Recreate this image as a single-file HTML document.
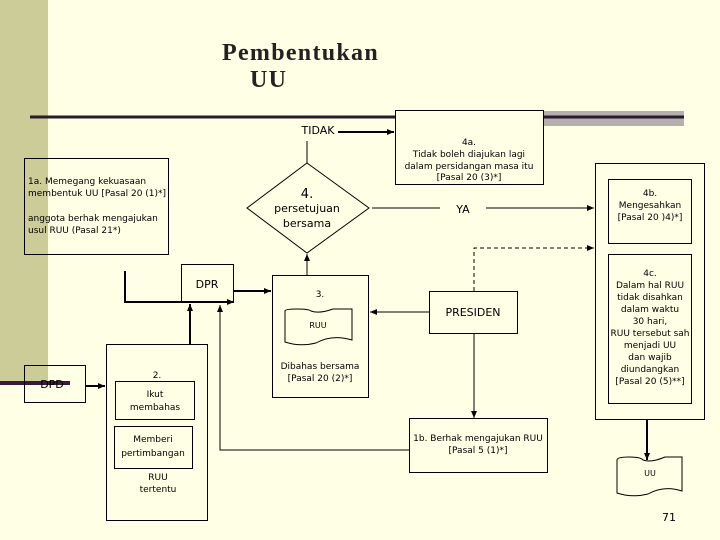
<!DOCTYPE html>
<html><head><style>
body{margin:0;width:720px;height:540px;background:#FFFFE6;overflow:hidden;position:relative;font-family:"DejaVu Sans","Liberation Sans",sans-serif}
svg{position:absolute;left:0;top:0}
</style></head><body>
<svg width="720" height="540" viewBox="0 0 720 540" font-family="DejaVu Sans, Liberation Sans, sans-serif" font-size="9">
<defs><marker id="a" markerWidth="8" markerHeight="8" refX="7" refY="4" orient="auto" markerUnits="userSpaceOnUse"><path d="M0,1 L7,4 L0,7z" fill="#000"/></marker></defs>
<rect x="0" y="0" width="48" height="383" fill="#CCCC99"/>
<rect x="540" y="111" width="144" height="15" fill="#B4B0B0"/>
<line x1="30" y1="117" x2="684" y2="117" stroke="#2A1A2A" stroke-width="3"/>
<line x1="0" y1="383" x2="70" y2="383" stroke="#3A1A3A" stroke-width="4"/>
<text x="222" y="60" font-family="Liberation Serif, serif" font-weight="bold" font-size="24" letter-spacing="1.3" fill="#222">Pembentukan</text>
<text x="250" y="87" font-family="Liberation Serif, serif" font-weight="bold" font-size="24" letter-spacing="1.3" fill="#222">UU</text>
<g fill="none" stroke="#000" stroke-width="1">
<rect x="24.5" y="158.5" width="144" height="96"/>
<rect x="395.5" y="110.5" width="148" height="74" fill="#FFFFE6"/>
<path d="M307,163 L369,208 L307,253 L247,208z"/>
<line x1="307" y1="141" x2="307" y2="163"/>
<rect x="595.5" y="163.5" width="109" height="256"/>
<rect x="608.5" y="179.5" width="83" height="64"/>
<rect x="608.5" y="254.5" width="83" height="149"/>
<rect x="429.5" y="291.5" width="88" height="42"/>
<rect x="272.5" y="275.5" width="96" height="122"/>
<rect x="181.5" y="264.5" width="52" height="37"/>
<rect x="106.5" y="344.5" width="101" height="176"/>
<rect x="115.5" y="381.5" width="79" height="38"/>
<rect x="114.5" y="426.5" width="78" height="42"/>
<rect x="24.5" y="365.5" width="61" height="37"/>
<rect x="409.5" y="418.5" width="138" height="54"/>
<path d="M285,311 q0,-2 12,-2 q12,0 14,2 q8,3 22,-2 l19,0 l0,31 q-20,-6 -36,3 q-16,4 -31,-1z"/>
<path d="M617,460 q0,-3 12,-3 q12,0 14,3 q8,3 22,-3 l17,0 l0,34 q-18,-6 -34,3 q-16,4 -31,-1z"/>
<line x1="372" y1="208" x2="440" y2="208"/><line x1="486" y1="208" x2="594" y2="208" marker-end="url(#a)"/>
<polyline points="474,291 474,248 594,248" stroke-dasharray="4,3" marker-end="url(#a)"/>
<line x1="429" y1="312" x2="370" y2="312" marker-end="url(#a)"/>
<line x1="474" y1="333" x2="474" y2="418" marker-end="url(#a)"/>
<line x1="307" y1="275" x2="307" y2="254" marker-end="url(#a)"/>
<polyline points="409,450 220,450 220,305" marker-end="url(#a)"/>
</g>
<g fill="none" stroke="#000" stroke-width="2">
<line x1="338" y1="132" x2="394" y2="132" marker-end="url(#a)"/>
<polyline points="125,271 125,302 234,302" marker-end="url(#a)"/>
<line x1="233" y1="291" x2="271" y2="291" marker-end="url(#a)"/>
<line x1="190" y1="344" x2="190" y2="304" marker-end="url(#a)"/>
<line x1="86" y1="386" x2="105" y2="386" marker-end="url(#a)"/>
<line x1="647" y1="420" x2="647" y2="460" marker-end="url(#a)"/>
</g>
<g fill="#000" text-anchor="middle">
<text x="318" y="134" font-size="11">TIDAK</text>
<text x="469" y="145">4a.</text>
<text x="469" y="157">Tidak boleh diajukan lagi</text>
<text x="469" y="169">dalam persidangan masa itu</text>
<text x="469" y="180">[Pasal 20 (3)*]</text>
<text x="307" y="198" font-size="13">4.</text>
<text x="307" y="212" font-size="11">persetujuan</text>
<text x="307" y="227" font-size="11">bersama</text>
<text x="463" y="213" font-size="11">YA</text>
<text x="650" y="196">4b.</text><text x="650" y="208">Mengesahkan</text><text x="650" y="220">[Pasal 20 )4)*]</text>
<text x="650" y="276">4c.</text><text x="650" y="288">Dalam hal RUU</text><text x="650" y="300">tidak disahkan</text><text x="650" y="312">dalam waktu</text><text x="650" y="324">30 hari,</text><text x="650" y="336">RUU tersebut sah</text><text x="650" y="348">menjadi UU</text><text x="650" y="360">dan wajib</text><text x="650" y="372">diundangkan</text><text x="650" y="384">[Pasal 20 (5)**]</text>
<text x="473" y="316" font-size="11">PRESIDEN</text>
<text x="320" y="297">3.</text>
<text x="318" y="328" font-size="8">RUU</text>
<text x="320" y="369">Dibahas bersama</text><text x="320" y="381">[Pasal 20 (2)*]</text>
<text x="207" y="288" font-size="11">DPR</text>
<text x="157" y="378">2.</text>
<text x="155" y="397">Ikut</text><text x="155" y="410">membahas</text>
<text x="153" y="442">Memberi</text><text x="153" y="456">pertimbangan</text>
<text x="158" y="480">RUU</text><text x="158" y="492">tertentu</text>
<text x="52" y="388" font-size="11">DPD</text>
<text x="478" y="441">1b. Berhak mengajukan RUU</text><text x="478" y="453">[Pasal 5 (1)*]</text>
<text x="650" y="476" font-size="8">UU</text>
<text x="669" y="521" font-size="11">71</text>
</g>
<g fill="#000" font-size="9">
<text x="28" y="184">1a. Memegang kekuasaan</text><text x="28" y="196">membentuk UU [Pasal 20 (1)*]</text>
<text x="28" y="221">anggota berhak mengajukan</text><text x="28" y="233">usul RUU (Pasal 21*)</text>
</g>
</svg>
</body></html>
